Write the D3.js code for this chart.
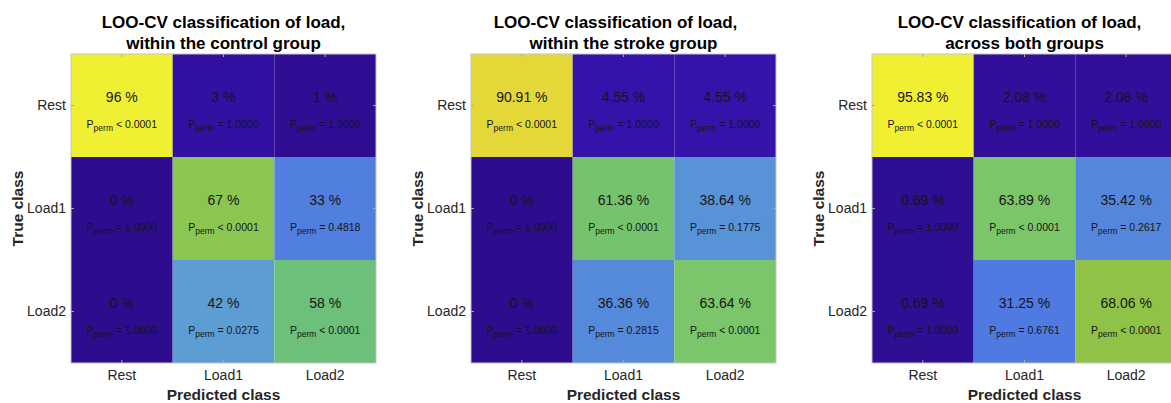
<!DOCTYPE html>
<html>
<head>
<meta charset="utf-8">
<script src="https://cdn.jsdelivr.net/npm/d3@7"></script>
<style>
  html, body { margin: 0; padding: 0; background: #fff; }
  svg { display: block; font-family: "Liberation Sans", Arial, Helvetica, sans-serif; }
</style>
</head>
<body>
<svg id="chart" width="1171" height="403"></svg>
<script>
// Class labels (true class rows, predicted class columns)
const classes = ["Rest", "Load1", "Load2"];

// Panel titles (two lines each)
const titles = [
  ["LOO-CV classification of load,", "within the control group"],
  ["LOO-CV classification of load,", "within the stroke group"],
  ["LOO-CV classification of load,", "across both groups"]
];

// Classification rates (%) per panel, row = true class, col = predicted class
const pctControl = [[96, 3, 1], [0, 67, 33], [0, 42, 58]];
const pctStroke  = [[90.91, 4.55, 4.55], [0, 61.36, 38.64], [0, 36.36, 63.64]];
const pctBoth    = [[95.83, 2.08, 2.08], [0.69, 63.89, 35.42], [0.69, 31.25, 68.06]];

// Permutation-test p-values as printed
const pControl = [["< 0.0001", "= 1.0000", "= 1.0000"], ["= 1.0000", "< 0.0001", "= 0.4818"], ["= 1.0000", "= 0.0275", "< 0.0001"]];
const pStroke  = [["< 0.0001", "= 1.0000", "= 1.0000"], ["= 1.0000", "< 0.0001", "= 0.1775"], ["= 1.0000", "= 0.2815", "< 0.0001"]];
const pBoth    = [["< 0.0001", "= 1.0000", "= 1.0000"], ["= 1.0000", "< 0.0001", "= 0.2617"], ["= 1.0000", "= 0.6761", "< 0.0001"]];

const panels = [
  { pct: pctControl, p: pControl },
  { pct: pctStroke,  p: pStroke },
  { pct: pctBoth,    p: pBoth }
];

// Parula-like colour ramp
const color = d3.scaleLinear()
  .domain([0, 4.5, 31, 36, 42, 58, 62, 64, 67, 68, 91, 96, 100])
  .range(["#2d0d8e", "#3512aa", "#4e79e2", "#5588da", "#5c9ed3", "#6cc07a",
          "#78c46c", "#7cc66a", "#8cc652", "#90c248", "#e4d838", "#f0f032", "#f6f72a"])
  .clamp(true);

const svg = d3.select("#chart");

const plotW = 305, plotH = 309, plotTop = 54;
const lefts = [71, 471, 872];
const titleDx = [0, -8, -5];

panels.forEach((panel, k) => {
  const g = svg.append("g").attr("transform", `translate(${lefts[k]},${plotTop})`);

  const x = d3.scaleBand().domain(classes).range([0, plotW]);
  const y = d3.scaleBand().domain(classes).range([0, plotH]);

  const cells = [];
  classes.forEach((r, i) => classes.forEach((c, j) => {
    cells.push({ row: r, col: c, v: panel.pct[i][j], p: panel.p[i][j] });
  }));

  g.selectAll("rect.cell").data(cells).join("rect")
    .attr("class", "cell")
    .attr("x", d => x(d.col))
    .attr("y", d => y(d.row))
    .attr("width", x.bandwidth())
    .attr("height", y.bandwidth())
    .attr("fill", d => color(d.v));

  // percentage labels
  g.selectAll("text.pct").data(cells).join("text")
    .attr("class", "pct")
    .attr("x", d => x(d.col) + x.bandwidth() / 2)
    .attr("y", d => y(d.row) + y.bandwidth() / 2 - 9)
    .attr("text-anchor", "middle")
    .attr("dominant-baseline", "central")
    .attr("font-size", 14)
    .attr("fill", "#151515")
    .text(d => String(d.v) + " %");

  // p-value labels with subscript
  const pt = g.selectAll("text.pv").data(cells).join("text")
    .attr("class", "pv")
    .attr("x", d => x(d.col) + x.bandwidth() / 2)
    .attr("y", d => y(d.row) + y.bandwidth() / 2 + 22)
    .attr("text-anchor", "middle")
    .attr("font-size", 10.5)
    .attr("fill", "#151515");
  pt.append("tspan").text("P");
  pt.append("tspan").attr("font-size", 8.5).attr("dy", 3.5).text("perm");
  pt.append("tspan").attr("dy", -3.5).text(d => " " + d.p);

  // axes box
  g.append("rect")
    .attr("width", plotW).attr("height", plotH)
    .attr("fill", "none").attr("stroke", "#c4c4c4").attr("stroke-width", 1);

  // inward tick marks
  const tickLen = 3;
  classes.forEach(c => {
    const cx = x(c) + x.bandwidth() / 2;
    const cy = y(c) + y.bandwidth() / 2;
    g.append("line").attr("x1", cx).attr("x2", cx).attr("y1", 0).attr("y2", tickLen).attr("stroke", "#aaa");
    g.append("line").attr("x1", cx).attr("x2", cx).attr("y1", plotH).attr("y2", plotH - tickLen).attr("stroke", "#aaa");
    g.append("line").attr("y1", cy).attr("y2", cy).attr("x1", 0).attr("x2", tickLen).attr("stroke", "#aaa");
    g.append("line").attr("y1", cy).attr("y2", cy).attr("x1", plotW).attr("x2", plotW - tickLen).attr("stroke", "#aaa");
  });

  // tick labels
  const xAxis = d3.axisBottom(x).tickSize(0).tickPadding(7);
  const yAxis = d3.axisLeft(y).tickSize(0).tickPadding(5);
  const xa = g.append("g").attr("transform", `translate(0,${plotH})`).call(xAxis);
  const ya = g.append("g").call(yAxis);
  [xa, ya].forEach(a => {
    a.select(".domain").remove();
    a.selectAll("text").attr("font-size", 14).attr("fill", "#262626")
      .attr("font-family", "'Liberation Sans', Arial, sans-serif");
  });

  // axis titles
  g.append("text")
    .attr("x", plotW / 2).attr("y", plotH + 37)
    .attr("text-anchor", "middle").attr("font-size", 15.5).attr("font-weight", "bold")
    .attr("fill", "#262626")
    .text("Predicted class");

  g.append("text")
    .attr("transform", `translate(-48,${plotH / 2}) rotate(-90)`)
    .attr("text-anchor", "middle").attr("font-size", 15.5).attr("font-weight", "bold")
    .attr("fill", "#262626")
    .text("True class");

  // two-line title
  titles[k].forEach((line, li) => {
    g.append("text")
      .attr("x", plotW / 2 + (li === 0 ? titleDx[k] : 0))
      .attr("y", -32 + li * 21)
      .attr("text-anchor", "middle")
      .attr("dominant-baseline", "central")
      .attr("font-size", 17).attr("font-weight", "bold")
      .attr("fill", "#000")
      .text(line);
  });
});
</script>
</body>
</html>
